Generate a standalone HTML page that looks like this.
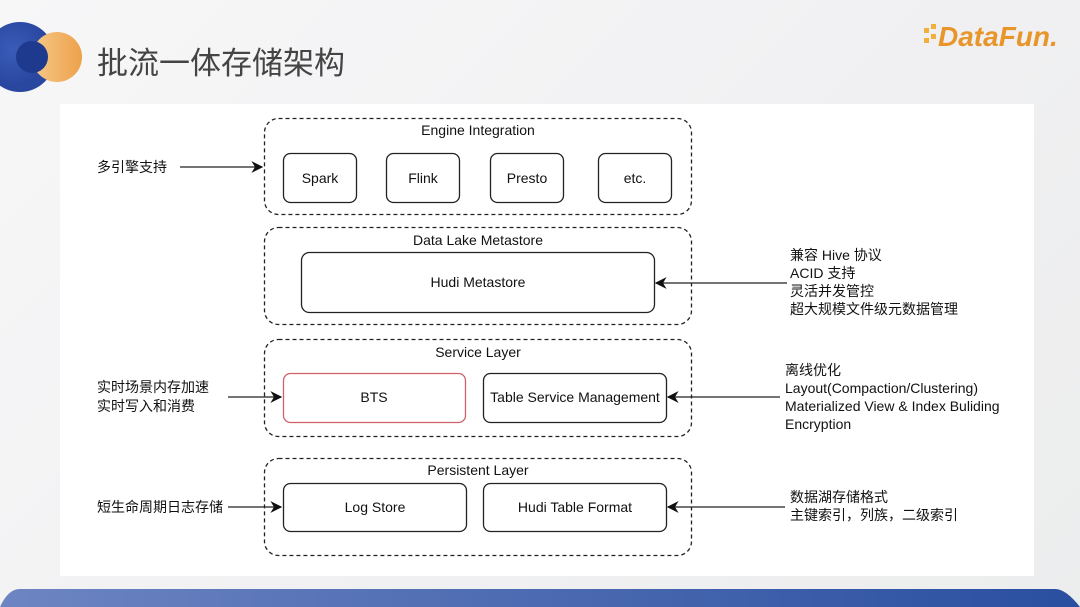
<!DOCTYPE html>
<html><head><meta charset="utf-8"><style>
html,body{margin:0;padding:0}
body{width:1080px;height:607px;overflow:hidden;background:linear-gradient(135deg,#f7f7f8,#f0f0f2 60%,#eceded);position:relative;font-family:"Liberation Sans","Noto Sans CJK SC",sans-serif}
</style></head><body>
<svg width="1080" height="607" viewBox="0 0 1080 607" xmlns="http://www.w3.org/2000/svg" style="position:absolute;left:0;top:0;font-family:'Liberation Sans','Noto Sans CJK SC',sans-serif">
<defs>
<linearGradient id="bar" x1="0" x2="1"><stop offset="0" stop-color="#6d85c2"/><stop offset="1" stop-color="#2a4fa0"/></linearGradient>
<radialGradient id="bc" cx="0.4" cy="0.4"><stop offset="0" stop-color="#3a5cb8"/><stop offset="1" stop-color="#2a47a0"/></radialGradient>
<linearGradient id="oc" x1="0" x2="1"><stop offset="0" stop-color="#f6c98a"/><stop offset="1" stop-color="#eda14a"/></linearGradient>
<marker id="a" viewBox="0 0 10 10" refX="9" refY="5" markerWidth="9" markerHeight="9" orient="auto"><path d="M0,0 L10,5 L0,10 L3,5 Z" fill="#111"/></marker>
</defs>
<!-- logo circles -->
<circle cx="20" cy="57" r="35" fill="url(#bc)"/>
<circle cx="57" cy="57" r="25" fill="url(#oc)"/>
<circle cx="32" cy="57" r="16" fill="#1e3a8f"/>
<text x="97" y="74" font-size="31" fill="#444">批流一体存储架构</text>
<!-- DataFun -->
<g fill="#f0b03a"><rect x="924" y="28" width="5" height="5"/><rect x="931" y="34" width="5" height="5"/><rect x="924" y="38" width="5" height="5"/><rect x="931" y="24" width="5" height="5"/></g>
<text x="938" y="46" font-size="28" font-weight="bold" font-style="italic" fill="#e8952a">DataFun.</text>
<!-- panel -->
<rect x="60" y="104" width="974" height="472" fill="#fff"/>
<!-- bottom bar -->
<path d="M20,589 H1055 Q1066,589 1080,607 H0 Q8,589 20,589 Z" fill="url(#bar)"/>
<g fill="none" stroke="#222" stroke-width="1.3">
<rect x="264.5" y="118.5" width="427" height="96" rx="14" stroke-dasharray="4,3"/>
<rect x="264.5" y="227.5" width="427" height="97" rx="14" stroke-dasharray="4,3"/>
<rect x="264.5" y="339.5" width="427" height="97" rx="14" stroke-dasharray="4,3"/>
<rect x="264.5" y="458.5" width="427" height="97" rx="14" stroke-dasharray="4,3"/>
<rect x="283.5" y="153.5" width="73" height="49" rx="7"/>
<rect x="386.5" y="153.5" width="73" height="49" rx="7"/>
<rect x="490.5" y="153.5" width="73" height="49" rx="7"/>
<rect x="598.5" y="153.5" width="73" height="49" rx="7"/>
<rect x="301.5" y="252.5" width="353" height="60" rx="8"/>
<rect x="283.5" y="373.5" width="182" height="49" rx="7" stroke="#d0606a"/>
<rect x="483.5" y="373.5" width="183" height="49" rx="7"/>
<rect x="283.5" y="483.5" width="183" height="48" rx="7"/>
<rect x="483.5" y="483.5" width="183" height="48" rx="7"/>
<line x1="180" y1="167" x2="262" y2="167" marker-end="url(#a)"/>
<line x1="787" y1="283" x2="656" y2="283" marker-end="url(#a)"/>
<line x1="228" y1="397" x2="281" y2="397" marker-end="url(#a)"/>
<line x1="780" y1="397" x2="668" y2="397" marker-end="url(#a)"/>
<line x1="228" y1="507" x2="281" y2="507" marker-end="url(#a)"/>
<line x1="785" y1="507" x2="668" y2="507" marker-end="url(#a)"/>
</g>
<g font-size="14" fill="#111" text-anchor="middle">
<text x="478" y="135">Engine Integration</text>
<text x="320" y="183">Spark</text>
<text x="423" y="183">Flink</text>
<text x="527" y="183">Presto</text>
<text x="635" y="183">etc.</text>
<text x="478" y="245">Data Lake Metastore</text>
<text x="478" y="287">Hudi Metastore</text>
<text x="478" y="357">Service Layer</text>
<text x="374" y="402">BTS</text>
<text x="575" y="402">Table Service Management</text>
<text x="478" y="475">Persistent Layer</text>
<text x="375" y="512">Log Store</text>
<text x="575" y="512">Hudi Table Format</text>
</g>
<g font-size="14" fill="#111">
<text x="97" y="172">多引擎支持</text>
<text x="97" y="392">实时场景内存加速</text>
<text x="97" y="411">实时写入和消费</text>
<text x="97" y="512">短生命周期日志存储</text>
<text x="790" y="260">兼容 Hive 协议</text>
<text x="790" y="278">ACID 支持</text>
<text x="790" y="296">灵活并发管控</text>
<text x="790" y="314">超大规模文件级元数据管理</text>
<text x="785" y="375">离线优化</text>
<text x="785" y="393">Layout(Compaction/Clustering)</text>
<text x="785" y="411">Materialized View &amp; Index Buliding</text>
<text x="785" y="429">Encryption</text>
<text x="790" y="502">数据湖存储格式</text>
<text x="790" y="520">主键索引，列族，二级索引</text>
</g>
</svg>
</body></html>
